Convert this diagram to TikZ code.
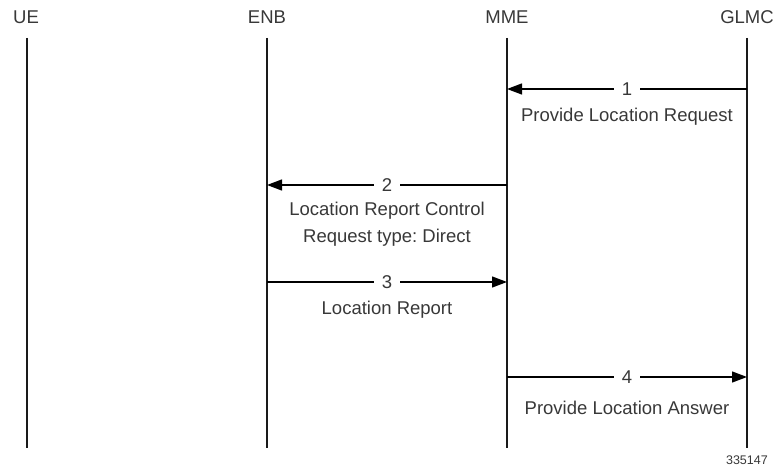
\documentclass[tikz,border=0pt]{standalone}
\usepackage{fontspec}
\setmainfont{Liberation Sans}
\usetikzlibrary{arrows.meta}
\definecolor{txt}{HTML}{383838}
\definecolor{ln}{HTML}{1A1A1A}
\frenchspacing
\begin{document}
\begin{tikzpicture}[x=1bp,y=-1bp,
  hdr/.style={font=\fontsize{18.5bp}{22bp}\selectfont, text=txt, inner sep=0pt},
  lbl/.style={font=\fontsize{18.5bp}{22bp}\selectfont, text=txt, inner sep=0pt},
  num/.style={font=\fontsize{18.5bp}{22bp}\selectfont, text=txt, fill=white, inner xsep=8bp, inner ysep=2bp},
  life/.style={draw=ln, line width=1.3bp},
  msg/.style={draw=black, line width=1.3bp, -{Triangle[length=15bp,width=11bp]}}]
\useasboundingbox (0,0) rectangle (778,467);
% headers
\node[hdr] (ue) at (26,17) {UE};
\node[hdr] (enb) at (267,17) {ENB};
\node[hdr] (mme) at (507,17) {MME};
\node[hdr] (glmc) at (747,17) {GLMC};
% lifelines
\foreach \n/\x in {ue/27,enb/267,mme/507,glmc/747}{
  \coordinate (\n t) at (\x,38);
  \coordinate (\n b) at (\x,448);
  \draw[life] (\n t) -- (\n b);
}
% message endpoints
\coordinate (g1) at (747,89); \coordinate (m1) at (507,89);
\coordinate (m2) at (507,185); \coordinate (e2) at (267,185);
\coordinate (e3) at (267,282); \coordinate (m3) at (507,282);
\coordinate (m4) at (507,377); \coordinate (g4) at (747,377);
% messages
\draw[msg] (g1) -- node[num] (n1) {1} (m1);
\node[lbl] (l1) at (627,117) {Provide Location Request};
\draw[msg] (m2) -- node[num] (n2) {2} (e2);
\node[lbl] (l2a) at (387,211) {Location Report Control};
\node[lbl] (l2b) at (387,238) {Request type: Direct};
\draw[msg] (e3) -- node[num] (n3) {3} (m3);
\node[lbl] (l3) at (387,310) {Location Report};
\draw[msg] (m4) -- node[num] (n4) {4} (g4);
\node[lbl] (l4) at (627,408) {Provide Location Answer};
\node[font=\fontsize{12.5bp}{14bp}\selectfont, text=txt, inner sep=0pt, anchor=east] (fig) at (768,460) {335147};
\end{tikzpicture}
\end{document}
